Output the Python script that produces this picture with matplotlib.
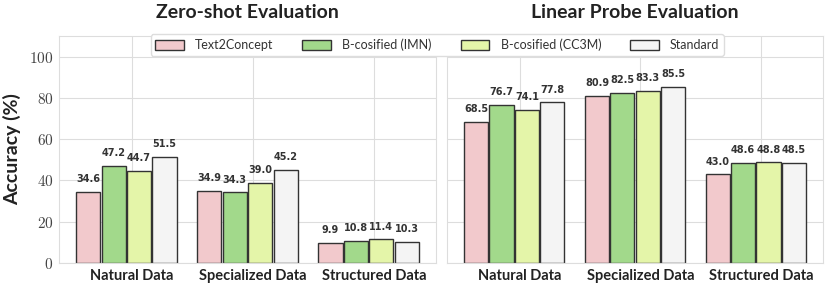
import numpy as np
import matplotlib
matplotlib.use('Agg')
import matplotlib.pyplot as plt
import matplotlib.ticker as plticker

CATEGORIES = ['Natural Data', 'Specialized Data', 'Structured Data']
METHODS    = ['Text2Concept', 'B-cosified (IMN)', 'B-cosified (CC3M)', 'Standard']
COLORS     = ['#F2C9CC', '#A2D98B', '#E4F5A9', '#F4F4F4']
TITLES     = ['Zero-shot Evaluation', 'Linear Probe Evaluation']

ZERO_SHOT = [
    [34.6, 34.9,  9.9],   # Text2Concept
    [47.2, 34.3, 10.8],   # B-cosified (IMN)
    [44.7, 39.0, 11.4],   # B-cosified (CC3M)
    [51.5, 45.2, 10.3],   # Standard
]
LINEAR_PROBE = [
    [68.5, 80.9, 43.0],
    [76.7, 82.5, 48.6],
    [74.1, 83.3, 48.8],
    [77.8, 85.5, 48.5],
]
Y_TICKS = [0, 20, 40, 60, 80, 100]

BAR_WIDTH = 0.2
BAR_STEP  = 0.21
SANS      = 'Lato'
GRID_GREY = '#DDDDDD'

plt.rcParams['mathtext.fontset'] = 'cm'

fig = plt.figure(figsize=(8.3, 2.88), dpi=100)
axes = [fig.add_axes([0.0711, 0.0868, 0.4542, 0.7882]),
        fig.add_axes([0.5386, 0.0868, 0.4530, 0.7882])]

x = np.arange(len(CATEGORIES))

for ax, title, data in zip(axes, TITLES, [ZERO_SHOT, LINEAR_PROBE]):
    ax.set_axisbelow(True)
    ax.grid(True, color=GRID_GREY, linewidth=0.8)
    for spine in ax.spines.values():
        spine.set_color(GRID_GREY)
        spine.set_linewidth(0.8)

    for i, (method, values) in enumerate(zip(METHODS, data)):
        pos = x + (i - 1.5) * BAR_STEP - 0.045
        bars = ax.bar(pos, values, BAR_WIDTH, color=COLORS[i], edgecolor='#333333',
                      linewidth=1.0, label=method)
        for bar, v in zip(bars, values):
            ax.annotate('%.1f' % v, (bar.get_x() + bar.get_width() / 2, v),
                        xytext=(0, 5.5), textcoords='offset points', ha='center', va='bottom',
                        fontsize=7, fontweight='bold', color='#333333', family='DejaVu Sans')

    ax.set_ylim(0, 110)
    ax.yaxis.set_major_locator(plticker.FixedLocator(Y_TICKS))
    ax.set_xticks(x)
    ax.set_xticklabels(CATEGORIES, fontsize=10.5, fontweight='bold', family=SANS, color='#222222')
    ax.tick_params(length=0, pad=4)
    ax.set_title(title, fontsize=14, fontweight='bold', family=SANS, color='#222222', pad=13)

axes[0].set_yticklabels(['$%d$' % t for t in Y_TICKS], fontsize=11, color='#444444')
axes[1].set_yticklabels([])
axes[0].set_ylabel('Accuracy (%)', fontsize=14, fontweight='bold', family=SANS, color='#222222',
                   labelpad=6)

handles, labels = axes[0].get_legend_handles_labels()
legend = fig.legend(handles, labels, ncol=4, loc='center', bbox_to_anchor=(0.527, 0.844),
                    prop={'family': SANS, 'size': 9}, frameon=True, fancybox=True,
                    handlelength=2.3, handleheight=0.8, columnspacing=2.3, handletextpad=0.9,
                    borderpad=0.35, edgecolor=GRID_GREY, framealpha=1)
for t in legend.get_texts():
    t.set_color('#333333')

fig.savefig('out.png', dpi=100)
